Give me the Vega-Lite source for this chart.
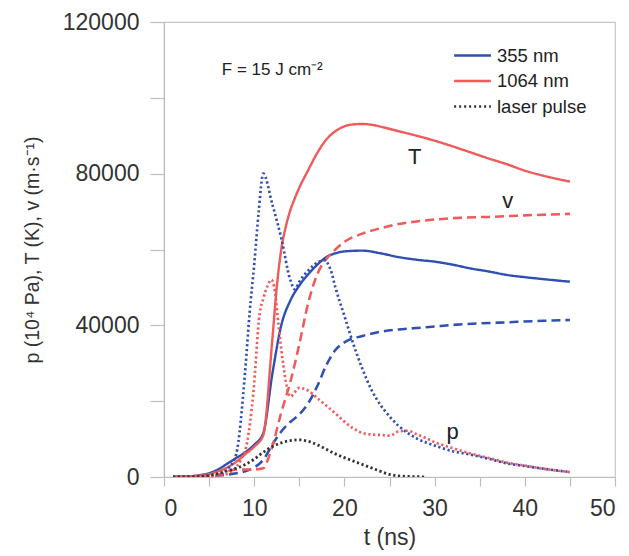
{
  "$schema": "https://vega.github.io/schema/vega-lite/v6.json",
  "width": 451,
  "height": 455,
  "autosize": {"type": "none"},
  "padding": {"left": 164, "top": 22, "right": 14, "bottom": 79},
  "background": "white",
  "config": {
    "font": "Liberation Sans",
    "view": {"stroke": "#c8c8c8", "strokeWidth": 1.2},
    "axis": {"grid": false, "domainColor": "#bdbdbd", "tickColor": "#bdbdbd", "labelColor": "#333", "titleColor": "#333", "labelFont": "Liberation Sans", "titleFont": "Liberation Sans", "titleFontWeight": "normal", "labelFontSize": 23, "titleFontSize": 23}
  },
  "datasets": {
    "curves": [
      {"s":"355 nm","q":"T","t":1,"y":0},{"s":"355 nm","q":"T","t":2,"y":100},{"s":"355 nm","q":"T","t":3,"y":200},{"s":"355 nm","q":"T","t":4,"y":500},{"s":"355 nm","q":"T","t":5,"y":1000},{"s":"355 nm","q":"T","t":6,"y":2000},{"s":"355 nm","q":"T","t":7,"y":3500},{"s":"355 nm","q":"T","t":8,"y":5000},{"s":"355 nm","q":"T","t":9,"y":6500},{"s":"355 nm","q":"T","t":10,"y":8500},{"s":"355 nm","q":"T","t":11,"y":11500},{"s":"355 nm","q":"T","t":12,"y":27000},{"s":"355 nm","q":"T","t":13,"y":40000},{"s":"355 nm","q":"T","t":14,"y":46500},{"s":"355 nm","q":"T","t":15,"y":50500},{"s":"355 nm","q":"T","t":16,"y":53500},{"s":"355 nm","q":"T","t":17,"y":56000},{"s":"355 nm","q":"T","t":18,"y":58000},{"s":"355 nm","q":"T","t":19,"y":59000},{"s":"355 nm","q":"T","t":20,"y":59500},{"s":"355 nm","q":"T","t":22,"y":59700},{"s":"355 nm","q":"T","t":24,"y":59000},{"s":"355 nm","q":"T","t":26,"y":58000},{"s":"355 nm","q":"T","t":28,"y":57300},{"s":"355 nm","q":"T","t":30,"y":56800},{"s":"355 nm","q":"T","t":32,"y":56000},{"s":"355 nm","q":"T","t":34,"y":55000},{"s":"355 nm","q":"T","t":36,"y":54200},{"s":"355 nm","q":"T","t":38,"y":53300},{"s":"355 nm","q":"T","t":40,"y":52700},{"s":"355 nm","q":"T","t":42,"y":52200},{"s":"355 nm","q":"T","t":45,"y":51500},
      {"s":"1064 nm","q":"T","t":1,"y":0},{"s":"1064 nm","q":"T","t":2,"y":100},{"s":"1064 nm","q":"T","t":3,"y":200},{"s":"1064 nm","q":"T","t":4,"y":400},{"s":"1064 nm","q":"T","t":5,"y":800},{"s":"1064 nm","q":"T","t":6,"y":1500},{"s":"1064 nm","q":"T","t":7,"y":2500},{"s":"1064 nm","q":"T","t":8,"y":4000},{"s":"1064 nm","q":"T","t":9,"y":6000},{"s":"1064 nm","q":"T","t":10,"y":8000},{"s":"1064 nm","q":"T","t":11,"y":11000},{"s":"1064 nm","q":"T","t":12,"y":36000},{"s":"1064 nm","q":"T","t":12.5,"y":50000},{"s":"1064 nm","q":"T","t":13,"y":60000},{"s":"1064 nm","q":"T","t":13.5,"y":66000},{"s":"1064 nm","q":"T","t":14,"y":70300},{"s":"1064 nm","q":"T","t":14.5,"y":73500},{"s":"1064 nm","q":"T","t":15,"y":76300},{"s":"1064 nm","q":"T","t":16,"y":81000},{"s":"1064 nm","q":"T","t":17,"y":85500},{"s":"1064 nm","q":"T","t":18,"y":89000},{"s":"1064 nm","q":"T","t":19,"y":91200},{"s":"1064 nm","q":"T","t":20,"y":92500},{"s":"1064 nm","q":"T","t":21,"y":93000},{"s":"1064 nm","q":"T","t":22,"y":93100},{"s":"1064 nm","q":"T","t":23,"y":92900},{"s":"1064 nm","q":"T","t":24,"y":92400},{"s":"1064 nm","q":"T","t":26,"y":91200},{"s":"1064 nm","q":"T","t":28,"y":90000},{"s":"1064 nm","q":"T","t":30,"y":88700},{"s":"1064 nm","q":"T","t":32,"y":87200},{"s":"1064 nm","q":"T","t":34,"y":85600},{"s":"1064 nm","q":"T","t":36,"y":84000},{"s":"1064 nm","q":"T","t":38,"y":82500},{"s":"1064 nm","q":"T","t":40,"y":80800},{"s":"1064 nm","q":"T","t":42,"y":79500},{"s":"1064 nm","q":"T","t":45,"y":77900},
      {"s":"355 nm","q":"v","t":1,"y":0},{"s":"355 nm","q":"v","t":3,"y":100},{"s":"355 nm","q":"v","t":5,"y":300},{"s":"355 nm","q":"v","t":7,"y":600},{"s":"355 nm","q":"v","t":8,"y":1000},{"s":"355 nm","q":"v","t":9,"y":1500},{"s":"355 nm","q":"v","t":10,"y":2500},{"s":"355 nm","q":"v","t":11,"y":4500},{"s":"355 nm","q":"v","t":12,"y":8500},{"s":"355 nm","q":"v","t":13,"y":12000},{"s":"355 nm","q":"v","t":14,"y":14500},{"s":"355 nm","q":"v","t":15,"y":16500},{"s":"355 nm","q":"v","t":16,"y":19500},{"s":"355 nm","q":"v","t":17,"y":24000},{"s":"355 nm","q":"v","t":18,"y":29500},{"s":"355 nm","q":"v","t":19,"y":33500},{"s":"355 nm","q":"v","t":20,"y":35500},{"s":"355 nm","q":"v","t":22,"y":37200},{"s":"355 nm","q":"v","t":24,"y":38300},{"s":"355 nm","q":"v","t":26,"y":38900},{"s":"355 nm","q":"v","t":28,"y":39300},{"s":"355 nm","q":"v","t":30,"y":39700},{"s":"355 nm","q":"v","t":32,"y":40100},{"s":"355 nm","q":"v","t":35,"y":40500},{"s":"355 nm","q":"v","t":38,"y":40800},{"s":"355 nm","q":"v","t":42,"y":41200},{"s":"355 nm","q":"v","t":45,"y":41400},
      {"s":"1064 nm","q":"v","t":1,"y":0},{"s":"1064 nm","q":"v","t":3,"y":100},{"s":"1064 nm","q":"v","t":5,"y":300},{"s":"1064 nm","q":"v","t":6,"y":600},{"s":"1064 nm","q":"v","t":7,"y":1500},{"s":"1064 nm","q":"v","t":8,"y":2000},{"s":"1064 nm","q":"v","t":9,"y":2000},{"s":"1064 nm","q":"v","t":10,"y":2000},{"s":"1064 nm","q":"v","t":11,"y":2300},{"s":"1064 nm","q":"v","t":11.5,"y":4500},{"s":"1064 nm","q":"v","t":12,"y":8000},{"s":"1064 nm","q":"v","t":13,"y":17000},{"s":"1064 nm","q":"v","t":14,"y":25000},{"s":"1064 nm","q":"v","t":15,"y":35000},{"s":"1064 nm","q":"v","t":16,"y":46000},{"s":"1064 nm","q":"v","t":17,"y":53500},{"s":"1064 nm","q":"v","t":18,"y":57500},{"s":"1064 nm","q":"v","t":19,"y":60000},{"s":"1064 nm","q":"v","t":20,"y":62000},{"s":"1064 nm","q":"v","t":22,"y":64200},{"s":"1064 nm","q":"v","t":24,"y":65600},{"s":"1064 nm","q":"v","t":26,"y":66700},{"s":"1064 nm","q":"v","t":28,"y":67400},{"s":"1064 nm","q":"v","t":30,"y":67900},{"s":"1064 nm","q":"v","t":33,"y":68400},{"s":"1064 nm","q":"v","t":36,"y":68600},{"s":"1064 nm","q":"v","t":40,"y":69000},{"s":"1064 nm","q":"v","t":45,"y":69400},
      {"s":"355 nm","q":"p","t":1,"y":0},{"s":"355 nm","q":"p","t":3,"y":0},{"s":"355 nm","q":"p","t":5,"y":200},{"s":"355 nm","q":"p","t":6,"y":500},{"s":"355 nm","q":"p","t":7,"y":2000},{"s":"355 nm","q":"p","t":8,"y":6000},{"s":"355 nm","q":"p","t":9,"y":28000},{"s":"355 nm","q":"p","t":9.5,"y":43500},{"s":"355 nm","q":"p","t":10,"y":56000},{"s":"355 nm","q":"p","t":10.5,"y":70000},{"s":"355 nm","q":"p","t":11,"y":80000},{"s":"355 nm","q":"p","t":12,"y":72000},{"s":"355 nm","q":"p","t":13,"y":63000},{"s":"355 nm","q":"p","t":14,"y":52000},{"s":"355 nm","q":"p","t":14.5,"y":49500},{"s":"355 nm","q":"p","t":15,"y":51500},{"s":"355 nm","q":"p","t":16,"y":54500},{"s":"355 nm","q":"p","t":17,"y":56500},{"s":"355 nm","q":"p","t":17.7,"y":57200},{"s":"355 nm","q":"p","t":18.5,"y":54500},{"s":"355 nm","q":"p","t":19,"y":50000},{"s":"355 nm","q":"p","t":20,"y":42500},{"s":"355 nm","q":"p","t":21,"y":35000},{"s":"355 nm","q":"p","t":22,"y":28500},{"s":"355 nm","q":"p","t":23,"y":23000},{"s":"355 nm","q":"p","t":24,"y":19000},{"s":"355 nm","q":"p","t":25,"y":16000},{"s":"355 nm","q":"p","t":26,"y":13500},{"s":"355 nm","q":"p","t":28,"y":10200},{"s":"355 nm","q":"p","t":30,"y":8300},{"s":"355 nm","q":"p","t":32,"y":6800},{"s":"355 nm","q":"p","t":34,"y":5900},{"s":"355 nm","q":"p","t":36,"y":4800},{"s":"355 nm","q":"p","t":38,"y":3600},{"s":"355 nm","q":"p","t":40,"y":2900},{"s":"355 nm","q":"p","t":42,"y":2200},{"s":"355 nm","q":"p","t":45,"y":1300},
      {"s":"1064 nm","q":"p","t":1,"y":0},{"s":"1064 nm","q":"p","t":3,"y":0},{"s":"1064 nm","q":"p","t":5,"y":100},{"s":"1064 nm","q":"p","t":7,"y":800},{"s":"1064 nm","q":"p","t":7.7,"y":1800},{"s":"1064 nm","q":"p","t":8.5,"y":4500},{"s":"1064 nm","q":"p","t":9.2,"y":9000},{"s":"1064 nm","q":"p","t":9.9,"y":22000},{"s":"1064 nm","q":"p","t":10.6,"y":43000},{"s":"1064 nm","q":"p","t":11,"y":47000},{"s":"1064 nm","q":"p","t":11.5,"y":50500},{"s":"1064 nm","q":"p","t":11.9,"y":52000},{"s":"1064 nm","q":"p","t":12.3,"y":49000},{"s":"1064 nm","q":"p","t":12.7,"y":40000},{"s":"1064 nm","q":"p","t":13.2,"y":30000},{"s":"1064 nm","q":"p","t":13.6,"y":24000},{"s":"1064 nm","q":"p","t":14,"y":21200},{"s":"1064 nm","q":"p","t":15,"y":23500},{"s":"1064 nm","q":"p","t":16,"y":22800},{"s":"1064 nm","q":"p","t":17,"y":20800},{"s":"1064 nm","q":"p","t":18,"y":18800},{"s":"1064 nm","q":"p","t":19,"y":16800},{"s":"1064 nm","q":"p","t":20,"y":14600},{"s":"1064 nm","q":"p","t":21,"y":12800},{"s":"1064 nm","q":"p","t":22,"y":11600},{"s":"1064 nm","q":"p","t":23,"y":11200},{"s":"1064 nm","q":"p","t":24,"y":11100},{"s":"1064 nm","q":"p","t":25,"y":10900},{"s":"1064 nm","q":"p","t":26,"y":12000},{"s":"1064 nm","q":"p","t":27,"y":12200},{"s":"1064 nm","q":"p","t":28,"y":11300},{"s":"1064 nm","q":"p","t":29,"y":10300},{"s":"1064 nm","q":"p","t":30,"y":9200},{"s":"1064 nm","q":"p","t":32,"y":7600},{"s":"1064 nm","q":"p","t":34,"y":6200},{"s":"1064 nm","q":"p","t":36,"y":5000},{"s":"1064 nm","q":"p","t":38,"y":3800},{"s":"1064 nm","q":"p","t":40,"y":3000},{"s":"1064 nm","q":"p","t":42,"y":2200},{"s":"1064 nm","q":"p","t":45,"y":1300},
      {"s":"laser pulse","q":"pulse","t":1,"y":0},{"s":"laser pulse","q":"pulse","t":2,"y":0},{"s":"laser pulse","q":"pulse","t":3,"y":50},{"s":"laser pulse","q":"pulse","t":4,"y":150},{"s":"laser pulse","q":"pulse","t":5,"y":400},{"s":"laser pulse","q":"pulse","t":6,"y":900},{"s":"laser pulse","q":"pulse","t":7,"y":1600},{"s":"laser pulse","q":"pulse","t":8,"y":2300},{"s":"laser pulse","q":"pulse","t":9,"y":3300},{"s":"laser pulse","q":"pulse","t":10,"y":4700},{"s":"laser pulse","q":"pulse","t":11,"y":6500},{"s":"laser pulse","q":"pulse","t":12,"y":8000},{"s":"laser pulse","q":"pulse","t":13,"y":9000},{"s":"laser pulse","q":"pulse","t":14,"y":9600},{"s":"laser pulse","q":"pulse","t":15,"y":9800},{"s":"laser pulse","q":"pulse","t":16,"y":9400},{"s":"laser pulse","q":"pulse","t":17,"y":8500},{"s":"laser pulse","q":"pulse","t":18,"y":7300},{"s":"laser pulse","q":"pulse","t":19,"y":6100},{"s":"laser pulse","q":"pulse","t":20,"y":5100},{"s":"laser pulse","q":"pulse","t":21,"y":4200},{"s":"laser pulse","q":"pulse","t":22,"y":3300},{"s":"laser pulse","q":"pulse","t":23,"y":2400},{"s":"laser pulse","q":"pulse","t":24,"y":1500},{"s":"laser pulse","q":"pulse","t":25,"y":700},{"s":"laser pulse","q":"pulse","t":26,"y":300},{"s":"laser pulse","q":"pulse","t":27,"y":150},{"s":"laser pulse","q":"pulse","t":28,"y":80},{"s":"laser pulse","q":"pulse","t":29,"y":50}
    ],
    "labels": [
      {"text":"F = 15 J cm⁻²","t":12.0,"y":107300,"size":17},
      {"text":"T","t":27.8,"y":84400,"size":22},
      {"text":"v","t":38.1,"y":72800,"size":22},
      {"text":"p","t":32.0,"y":12000,"size":22}
    ]
  },
  "layer": [
    {
      "data": {"name": "curves"},
      "mark": {"type": "line", "strokeCap": "butt", "clip": true, "interpolate": "monotone"},
      "encoding": {
        "x": {"field": "t", "type": "quantitative", "scale": {"domain": [0, 50], "nice": false}, "axis": {"title": "t (ns)", "values": [0,5,10,15,20,25,30,35,40,45,50], "labelExpr": "datum.value % 10 === 0 ? datum.label : ''", "tickSize": 9, "labelPadding": 11, "titlePadding": 6, "domainWidth": 1.2, "tickWidth": 1.2}},
        "y": {"field": "y", "type": "quantitative", "scale": {"domain": [0, 120000], "nice": false}, "axis": {"title": "p (10⁴ Pa), T (K), v (m·s⁻¹)", "titleFontSize": 19.5, "values": [0,20000,40000,60000,80000,100000,120000], "format": "d", "labelExpr": "datum.value % 40000 === 0 ? datum.label : ''", "tickSize": 14, "labelPadding": 11, "titlePadding": 20, "domainWidth": 1.2, "tickWidth": 1.2}},
        "color": {"field": "s", "type": "nominal", "scale": {"domain": ["355 nm", "1064 nm", "laser pulse"], "range": ["#2f4fb3", "#f05a5a", "#333333"]},
          "legend": {"title": null, "orient": "none", "legendX": 289, "legendY": 20, "symbolType": "M-1.5,0H1.5", "symbolSize": 600, "symbolStrokeWidth": 2.5, "labelFontSize": 18.5, "labelColor": "#222", "labelFont": "Liberation Sans", "rowPadding": 2.5, "labelOffset": 11, "symbolOffset": 6,
            "encode": {"symbols": {"update": {"strokeDash": {"signal": "datum.label === 'laser pulse' ? [2, 3] : [1, 0]"}}}}}},
        "strokeDash": {"field": "q", "type": "nominal", "scale": {"domain": ["T", "v", "p", "pulse"], "range": [[1, 0], [9, 5], [2.2, 2.6], [2.2, 2.6]]}, "legend": null},
        "strokeWidth": {"field": "q", "type": "nominal", "scale": {"domain": ["T", "v", "p", "pulse"], "range": [2.4, 2.8, 2.8, 2.8]}, "legend": null},
        "order": {"field": "t", "type": "quantitative"}
      }
    },
    {
      "data": {"name": "labels"},
      "mark": {"type": "text", "font": "Liberation Sans", "color": "#222", "align": "center", "baseline": "middle"},
      "encoding": {
        "x": {"field": "t", "type": "quantitative"},
        "y": {"field": "y", "type": "quantitative"},
        "text": {"field": "text"},
        "size": {"field": "size", "type": "quantitative", "scale": null}
      }
    }
  ]
}
